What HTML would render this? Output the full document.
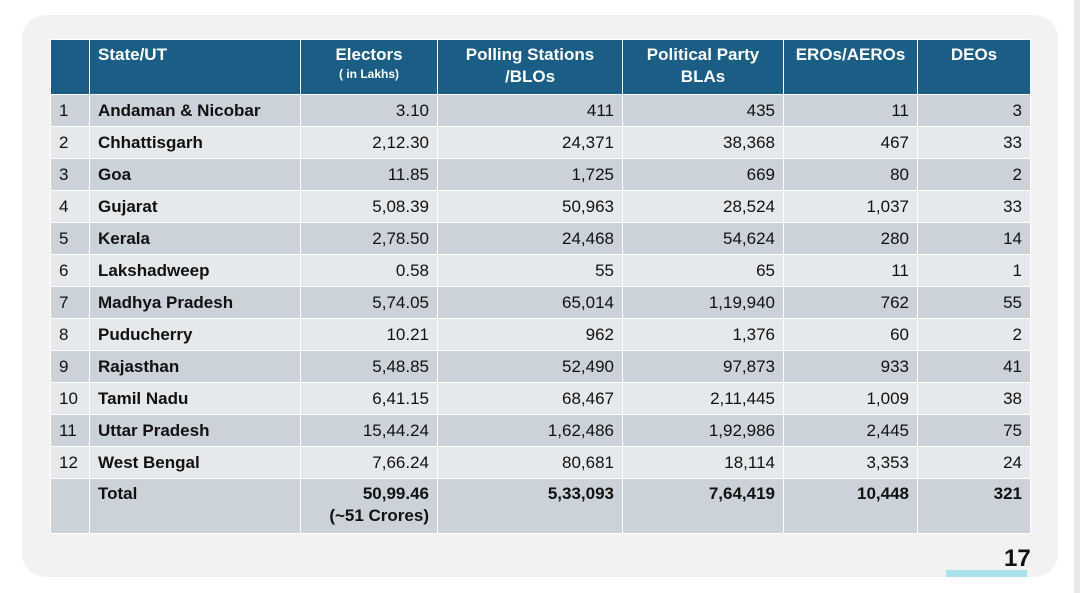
<!DOCTYPE html>
<html><head><meta charset="utf-8"><style>
body{margin:0;width:1080px;height:593px;background:#fff;position:relative;overflow:hidden;font-family:"Liberation Sans",sans-serif;}
.strip{position:absolute;left:1074px;top:0;width:6px;height:593px;background:#e8e8e8}
.panel{position:absolute;left:22px;top:15px;width:1036px;height:562px;background:#f2f2f2;border-radius:24px}
table{position:absolute;left:50px;top:39px;border-collapse:collapse;table-layout:fixed;font-size:17px;color:#111}
td,th{border:1.5px solid #fff;padding:0 8px;height:32px;white-space:nowrap;box-sizing:border-box}
th{background:#1b5e85;color:#fff;font-weight:bold;height:55px;vertical-align:top;padding-top:4px;line-height:22px}
th small{font-size:12px;display:block;line-height:16px}
tr:nth-child(odd) td{background:#e6e9ec}
tr:nth-child(even) td{background:#ccd2d9}
td.n{text-align:right}
td.s{font-weight:bold}
tr.tot td{background:#ccd2d9;height:55px;vertical-align:top;padding-top:4px;font-weight:bold;line-height:22px}
.pg{position:absolute;left:1004px;top:545px;font-weight:bold;font-size:24px;color:#111}
.bar{position:absolute;left:946px;top:570px;width:81px;height:7px;background:#a9e1eb}
</style></head><body>
<div class="strip"></div>
<div class="panel"></div>
<table>
<colgroup><col style="width:39px"><col style="width:211px"><col style="width:137px"><col style="width:185px"><col style="width:161px"><col style="width:134px"><col style="width:113px"></colgroup>
<tr><th></th><th style="text-align:left">State/UT</th><th>Electors<small>( in Lakhs)</small></th><th>Polling Stations<br>/BLOs</th><th>Political Party<br>BLAs</th><th>EROs/AEROs</th><th>DEOs</th></tr>
<tr><td>1</td><td class="s">Andaman &amp; Nicobar</td><td class="n">3.10</td><td class="n">411</td><td class="n">435</td><td class="n">11</td><td class="n">3</td></tr>
<tr><td>2</td><td class="s">Chhattisgarh</td><td class="n">2,12.30</td><td class="n">24,371</td><td class="n">38,368</td><td class="n">467</td><td class="n">33</td></tr>
<tr><td>3</td><td class="s">Goa</td><td class="n">11.85</td><td class="n">1,725</td><td class="n">669</td><td class="n">80</td><td class="n">2</td></tr>
<tr><td>4</td><td class="s">Gujarat</td><td class="n">5,08.39</td><td class="n">50,963</td><td class="n">28,524</td><td class="n">1,037</td><td class="n">33</td></tr>
<tr><td>5</td><td class="s">Kerala</td><td class="n">2,78.50</td><td class="n">24,468</td><td class="n">54,624</td><td class="n">280</td><td class="n">14</td></tr>
<tr><td>6</td><td class="s">Lakshadweep</td><td class="n">0.58</td><td class="n">55</td><td class="n">65</td><td class="n">11</td><td class="n">1</td></tr>
<tr><td>7</td><td class="s">Madhya Pradesh</td><td class="n">5,74.05</td><td class="n">65,014</td><td class="n">1,19,940</td><td class="n">762</td><td class="n">55</td></tr>
<tr><td>8</td><td class="s">Puducherry</td><td class="n">10.21</td><td class="n">962</td><td class="n">1,376</td><td class="n">60</td><td class="n">2</td></tr>
<tr><td>9</td><td class="s">Rajasthan</td><td class="n">5,48.85</td><td class="n">52,490</td><td class="n">97,873</td><td class="n">933</td><td class="n">41</td></tr>
<tr><td>10</td><td class="s">Tamil Nadu</td><td class="n">6,41.15</td><td class="n">68,467</td><td class="n">2,11,445</td><td class="n">1,009</td><td class="n">38</td></tr>
<tr><td>11</td><td class="s">Uttar Pradesh</td><td class="n">15,44.24</td><td class="n">1,62,486</td><td class="n">1,92,986</td><td class="n">2,445</td><td class="n">75</td></tr>
<tr><td>12</td><td class="s">West Bengal</td><td class="n">7,66.24</td><td class="n">80,681</td><td class="n">18,114</td><td class="n">3,353</td><td class="n">24</td></tr>
<tr class="tot"><td></td><td>Total</td><td class="n">50,99.46<br>(~51 Crores)</td><td class="n">5,33,093</td><td class="n">7,64,419</td><td class="n">10,448</td><td class="n">321</td></tr>
</table>
<div class="pg">17</div>
<div class="bar"></div>
</body></html>
